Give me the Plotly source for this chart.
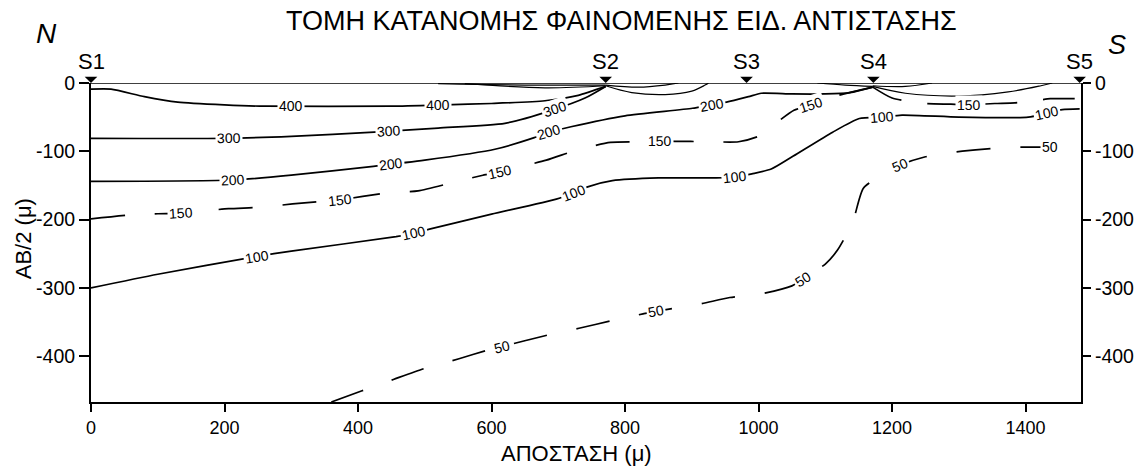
import math
import numpy as np
import plotly.graph_objects as go

# ---------------- data ----------------
title_text = "ΤΟΜΗ ΚΑΤΑΝΟΜΗΣ ΦΑΙΝΟΜΕΝΗΣ ΕΙΔ. ΑΝΤΙΣΤΑΣΗΣ"
x_title = "ΑΠΟΣΤΑΣΗ (μ)"
y_title = "AB/2 (μ)"

station_names = ["S1", "S2", "S3", "S4", "S5"]
station_x = [0, 771, 982, 1172, 1481]

x_ticks = [0, 200, 400, 600, 800, 1000, 1200, 1400]
y_ticks = [0, -100, -200, -300, -400]
y_ticktext_left = ["0", "-100", "-200", "-300", "-400"]
y_ticktext_right = ["0", "-100", "-200", "-300", "-400"]

c400_x = [0, 30, 80, 130, 200, 260, 450, 530, 600, 680, 730, 771]
c400_y = [-9, -9, -20, -28, -32, -34, -34, -32, -30, -26, -18, -5]
c400_lab = [300, 520]

c300_x = [0, 200, 300, 424, 520, 620, 690, 740, 771]
c300_y = [-81, -81, -78, -72, -66, -59, -40, -22, -5]
c300_lab = [206, 446, 695]

c200_x = [0, 213, 300, 423, 500, 605, 664, 686, 719, 800, 901, 927, 952, 985,
          1004, 1050, 1100, 1137, 1171]
c200_y = [-144, -142, -135, -122, -113, -97, -80, -72, -64, -48, -37, -32, -28,
          -20, -15, -16, -16, -14, -6]
c200_lab = [213, 450, 686, 930]

c150_x = [0, 62, 135, 206, 253, 302, 373, 442, 490, 541, 587, 612, 682, 728,
          778, 822, 852, 926, 970, 1000, 1019, 1053, 1078, 1120, 1171]
c150_y = [-199, -193, -190, -184, -182, -177, -171, -161, -158, -146, -135,
          -130, -113, -98, -87, -86, -85, -86, -86, -78, -64, -40, -32, -18, -6]
c150_lab = [135, 373, 612, 852, 1078]

c150b_x = [1171, 1200, 1248, 1288, 1315, 1354, 1384, 1420, 1437, 1481]
c150b_y = [-6, -22, -30, -31, -32, -30, -29, -25, -23, -23]
c150b_lab = [1315]

c100_x = [0, 100, 248, 300, 457, 484, 507, 600, 697, 723, 744, 781, 850, 934,
          964, 990, 1019, 1052, 1111, 1151, 1185, 1215, 1300, 1404, 1432, 1455, 1481]
c100_y = [-300, -280, -254, -246, -225, -220, -214, -192, -170, -161, -152,
          -143, -139, -139, -138, -133, -126, -107, -72, -52, -50, -47, -50,
          -50, -44, -39, -38]
c100_lab = [248, 484, 723, 964, 1185, 1432]

c50_x = [360, 405, 453, 499, 550, 598, 615, 680, 731, 780, 827, 847, 910, 957,
         1007, 1050, 1067, 1100, 1118, 1141, 1157, 1192, 1212, 1250, 1285, 1325,
         1374, 1419, 1436, 1456, 1481]
c50_y = [-467, -451, -434, -418, -404, -390, -386, -370, -359, -348, -338, -334,
         -324, -314, -308, -297, -287, -265, -245, -204, -154, -130, -120, -108,
         -102, -98, -94, -94, -94, -94, -94]
c50_lab = [615, 847, 1067, 1212, 1436]

# thin unlabelled lines converging on the stations S2 and S4
lens1_x = [520, 650, 771];             lens1_y = [-1, -3, -3]
lens2_x = [560, 680, 771];             lens2_y = [-1, -7, -4]
lens3_x = [771, 810, 860, 900, 920, 925]; lens3_y = [-4, -14, -17, -12, -3, 0]
lens4_x = [771, 820, 860, 880];        lens4_y = [-3, -6, -3, 0]
lens5_x = [1088, 1130, 1171];          lens5_y = [0, -3, -5]
lens6_x = [1171, 1220, 1300, 1374, 1423, 1440]; lens6_y = [-5, -15, -19, -13, -4, 0]
lens7_x = [1171, 1220, 1260];          lens7_y = [-4, -5, 0]

# ---------------- figure ----------------
X_MAX = 1483
Y_MIN = -467
W, H = 1146, 466
ML, MR, MT, MB = 91, 47, 83, 64
PW, PH = W - ML - MR, H - MT - MB
SX = PW / X_MAX
SY = PH / (0 - Y_MIN)

FONT = "Liberation Sans, Arial, sans-serif"
fig = go.Figure()

contours = [
    ("400", c400_x, c400_y, c400_lab, "solid"),
    ("300", c300_x, c300_y, c300_lab, "solid"),
    ("200", c200_x, c200_y, c200_lab, "solid"),
    ("150", c150_x, c150_y, c150_lab, "34px,30px"),
    ("150", c150b_x, c150b_y, c150b_lab, "32px,26px"),
    ("100", c100_x, c100_y, c100_lab, "solid"),
    ("50", c50_x, c50_y, c50_lab, "34px,30px"),
]

annotations = []
for level, xs, ys, labs, dash in contours:
    fig.add_trace(go.Scatter(x=xs, y=ys, mode="lines",
                             line=dict(color="black", width=1.7, dash=dash,
                                       shape="spline", smoothing=0.6),
                             hoverinfo="skip", cliponaxis=True))
    for lx in labs:
        ly = float(np.interp(lx, xs, ys))
        x0, x1 = lx - 12, lx + 12
        y0, y1 = np.interp(x0, xs, ys), np.interp(x1, xs, ys)
        ang = -math.degrees(math.atan2((y1 - y0) * SY, (x1 - x0) * SX))
        annotations.append(dict(x=lx, y=ly, xref="x", yref="y", text=level,
                                showarrow=False, textangle=ang,
                                font=dict(family=FONT, size=14, color="black"),
                                bgcolor="white", borderpad=1))

for lx, ly in [(lens1_x, lens1_y), (lens2_x, lens2_y), (lens3_x, lens3_y),
               (lens4_x, lens4_y), (lens5_x, lens5_y), (lens6_x, lens6_y),
               (lens7_x, lens7_y)]:
    fig.add_trace(go.Scatter(x=lx, y=ly, mode="lines",
                             line=dict(color="black", width=1.2, shape="spline"),
                             hoverinfo="skip"))

# invisible trace on the right axis so that it is drawn
fig.add_trace(go.Scatter(x=[0], y=[0], yaxis="y2", mode="markers",
                         marker=dict(opacity=0), hoverinfo="skip"))

shapes = [dict(type="line", xref="x", yref="y", x0=0, x1=X_MAX, y0=0, y1=0,
               line=dict(color="black", width=1.3))]

# stations: down-pointing triangle heads sitting on the surface + names
for name, sx in zip(station_names, station_x):
    annotations.append(dict(x=sx, y=0, xref="x", yref="y", text="",
                            showarrow=True, arrowhead=1, arrowsize=1.5,
                            arrowwidth=1.4, arrowcolor="black",
                            ax=0, ay=-6, standoff=0))
    annotations.append(dict(x=sx, y=0, xref="x", yref="y", text=name, showarrow=False,
                            yanchor="bottom", yshift=7,
                            font=dict(family=FONT, size=22, color="black")))

def px_x(p):
    return (p - ML) / PW

def px_y(p):
    return (H - MB - p) / PH

annotations.append(dict(x=px_x(631), y=px_y(21), xref="paper", yref="paper",
                        text=title_text, showarrow=False, xanchor="center", yanchor="middle",
                        font=dict(family=FONT, size=27, color="black")))
annotations.append(dict(x=px_x(46), y=px_y(33), xref="paper", yref="paper",
                        text="<i>N</i>", showarrow=False, xanchor="center", yanchor="middle",
                        font=dict(family=FONT, size=28, color="black")))
annotations.append(dict(x=px_x(1136), y=px_y(45), xref="paper", yref="paper",
                        text="<i>S</i>", showarrow=False, xanchor="center", yanchor="middle",
                        font=dict(family=FONT, size=27, color="black")))
annotations.append(dict(x=px_x(22), y=px_y(239), xref="paper", yref="paper",
                        text=y_title, showarrow=False, textangle=-90,
                        xanchor="center", yanchor="middle",
                        font=dict(family=FONT, size=22, color="black")))
annotations.append(dict(x=px_x(585), y=px_y(453), xref="paper", yref="paper",
                        text=x_title, showarrow=False, xanchor="center", yanchor="middle",
                        font=dict(family=FONT, size=22, color="black")))

fig.update_layout(
    width=W, height=H,
    margin=dict(l=ML, r=MR, t=MT, b=MB),
    plot_bgcolor="white", paper_bgcolor="white",
    showlegend=False,
    annotations=annotations,
    shapes=shapes,
    xaxis=dict(range=[0, X_MAX], tickvals=x_ticks, ticks="outside", ticklen=8,
               tickwidth=1.5, tickcolor="black", showline=True, linewidth=2,
               linecolor="black", showgrid=False, zeroline=False,
               tickfont=dict(family=FONT, size=18, color="black")),
    yaxis=dict(range=[Y_MIN, 0], tickvals=y_ticks, ticktext=y_ticktext_left,
               ticks="outside", ticklen=10, tickwidth=1.5, tickcolor="black",
               showline=True, linewidth=2, linecolor="black", showgrid=False,
               zeroline=False, tickfont=dict(family=FONT, size=19.5, color="black")),
    yaxis2=dict(range=[Y_MIN, 0], tickvals=y_ticks, ticktext=y_ticktext_right,
                overlaying="y", side="right", anchor="x",
                ticks="outside", ticklen=8, tickwidth=1.5, tickcolor="black",
                showline=True, linewidth=2, linecolor="black", showgrid=False,
                zeroline=False, tickfont=dict(family=FONT, size=19.5, color="black")),
)

fig.write_html("out.html",
               config={"displayModeBar": False},
               post_script="document.body.style.margin='0px';"
                           "document.body.style.overflow='hidden';")
